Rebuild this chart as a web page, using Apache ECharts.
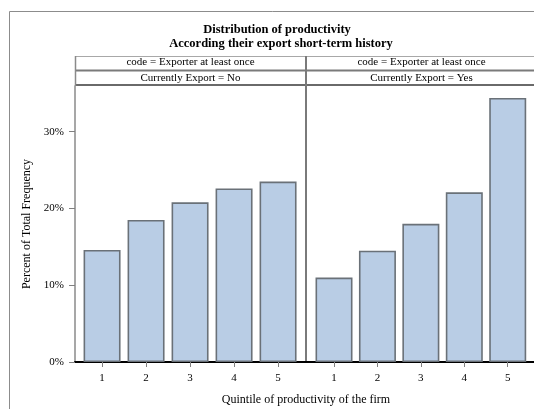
<!DOCTYPE html>
<html>
<head>
<meta charset="utf-8">
<script src="https://cdn.jsdelivr.net/npm/echarts@6/dist/echarts.min.js"></script>
<style>
html,body{margin:0;padding:0;background:#fff;}
#chart{width:534px;height:409px;}
</style>
</head>
<body>
<div id="chart"></div>
<script>
const categories = [1, 2, 3, 4, 5];
const exportNo = [14.6, 18.5, 20.8, 22.6, 23.5];
const exportYes = [11.0, 14.5, 18.0, 22.1, 34.4];
const yTickValues = [0, 10, 20, 30];
const titleText = 'Distribution of productivity';
const subtitleText = 'According their export short-term history';
const stripRow1 = ['code = Exporter at least once', 'code = Exporter at least once'];
const stripRow2 = ['Currently Export = No', 'Currently Export = Yes'];
const xTitle = 'Quintile of productivity of the firm';
const yTitle = 'Percent of Total Frequency';

const FONT = "'Liberation Serif', 'DejaVu Serif', serif";
const PLOT_TOP = 86, PLOT_H = 276, PANEL_W = 231, LEFT0 = 75;
const panels = [LEFT0, LEFT0 + PANEL_W];

const chart = echarts.init(document.getElementById('chart'), null, {renderer: 'canvas'});

function xAxisCfg(gi) {
  const shift = gi === 0 ? 0 : 0.03;
  return {
    type: 'value', gridIndex: gi, min: 0.385 - shift, max: 5.635 - shift,
    splitLine: {show: false},
    axisLine: {show: true, onZero: false, lineStyle: {color: '#000', width: 2}},
    axisTick: {show: true, customValues: categories, length: 5, lineStyle: {color: '#808080', width: 1}},
    axisLabel: {
      customValues: categories, margin: 11, color: '#000', fontFamily: FONT, fontSize: 11,
      formatter: v => (Number.isInteger(v) ? String(v) : '')
    }
  };
}

function yAxisCfg(gi) {
  const isLeft = gi === 0;
  return {
    type: 'value', gridIndex: gi, min: 0, max: 35.95,
    splitLine: {show: false},
    axisLine: {show: true, lineStyle: {color: isLeft ? '#8a8a8a' : '#7a7a7a', width: isLeft ? 1.5 : 2}},
    axisTick: {show: isLeft, customValues: yTickValues, length: 6, lineStyle: {color: '#808080'}},
    axisLabel: {
      show: isLeft, customValues: yTickValues, margin: 11, color: '#000', fontFamily: FONT, fontSize: 11,
      formatter: v => (yTickValues.includes(v) ? v + '%' : '')
    },
    name: isLeft ? yTitle : '',
    nameLocation: 'middle', nameGap: 42, nameRotate: 90,
    nameTextStyle: {color: '#000', fontFamily: FONT, fontSize: 12}
  };
}

function barSeries(gi, values) {
  return {
    type: 'bar', xAxisIndex: gi, yAxisIndex: gi,
    data: categories.map((c, i) => [c, values[i]]),
    barWidth: 37,
    itemStyle: {color: '#B9CDE5', borderColor: '#6A7178', borderWidth: 1.6},
    emphasis: {disabled: true},
    animation: false
  };
}

const graphics = [];
// outer frame
graphics.push({type: 'rect', shape: {x: 9.5, y: 11.5, width: 560, height: 420},
  style: {fill: 'none', stroke: '#8c8c8c', lineWidth: 1}, silent: true, z: 0});
// strips
panels.forEach((x0, i) => {
  graphics.push({type: 'rect', shape: {x: x0, y: 56, width: PANEL_W, height: 29},
    style: {fill: '#fff', stroke: 'none'}, z: 1});
  graphics.push({type: 'text', x: x0 + PANEL_W / 2, y: 62.5, z: 3,
    style: {text: stripRow1[i], fill: '#000', font: '11px ' + FONT, textAlign: 'center', textVerticalAlign: 'middle'}});
  graphics.push({type: 'text', x: x0 + PANEL_W / 2, y: 78.5, z: 3,
    style: {text: stripRow2[i], fill: '#000', font: '11px ' + FONT, textAlign: 'center', textVerticalAlign: 'middle'}});
});
const stripLeft = LEFT0, stripRight = LEFT0 + 2 * PANEL_W;
graphics.push({type: 'line', shape: {x1: stripLeft, y1: 56.5, x2: stripRight, y2: 56.5}, style: {stroke: '#a8a8a8', lineWidth: 1}, z: 2});
graphics.push({type: 'line', shape: {x1: stripLeft, y1: 70.5, x2: stripRight, y2: 70.5}, style: {stroke: '#7a7a7a', lineWidth: 2}, z: 2});
graphics.push({type: 'line', shape: {x1: stripLeft, y1: 85, x2: stripRight, y2: 85}, style: {stroke: '#6a6a6a', lineWidth: 2}, z: 2});
graphics.push({type: 'line', shape: {x1: LEFT0 + 0.5, y1: 56, x2: LEFT0 + 0.5, y2: 86}, style: {stroke: '#8a8a8a', lineWidth: 1.5}, z: 2});
graphics.push({type: 'line', shape: {x1: LEFT0 + PANEL_W, y1: 56, x2: LEFT0 + PANEL_W, y2: 86}, style: {stroke: '#7a7a7a', lineWidth: 2}, z: 2});
// x-axis title
graphics.push({type: 'text', x: LEFT0 + PANEL_W, y: 400, z: 3,
  style: {text: xTitle, fill: '#000', font: '12px ' + FONT, textAlign: 'center', textVerticalAlign: 'middle'}});

chart.setOption({
  animation: false,
  backgroundColor: '#fff',
  title: [
    {text: titleText, left: 277, top: 23, textAlign: 'center', padding: 0,
     textStyle: {fontFamily: FONT, fontSize: 12.5, fontWeight: 'bold', color: '#000'}},
    {text: subtitleText, left: 281, top: 37, textAlign: 'center', padding: 0,
     textStyle: {fontFamily: FONT, fontSize: 12.5, fontWeight: 'bold', color: '#000'}}
  ],
  grid: [
    {left: panels[0], top: PLOT_TOP, width: PANEL_W, height: PLOT_H, containLabel: false},
    {left: panels[1], top: PLOT_TOP, width: PANEL_W, height: PLOT_H, containLabel: false}
  ],
  xAxis: [xAxisCfg(0), xAxisCfg(1)],
  yAxis: [yAxisCfg(0), yAxisCfg(1)],
  series: [barSeries(0, exportNo), barSeries(1, exportYes)],
  graphic: graphics
});
</script>
</body>
</html>
